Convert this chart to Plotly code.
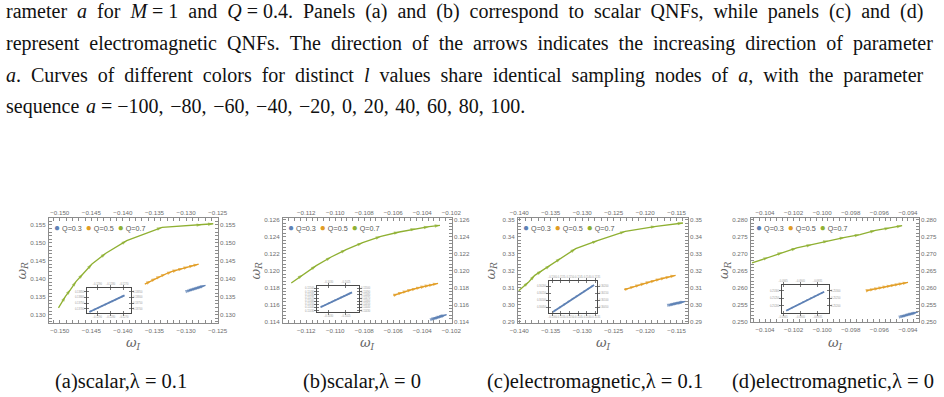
import plotly.graph_objects as go

# ---------------- data ----------------
a_values = [-100, -80, -60, -40, -20, 0, 20, 40, 60, 80, 100]
series_names = ["Q=0.3", "Q=0.5", "Q=0.7"]
series_colors = ["#5E81B5", "#E19C24", "#8FB032"]

# panel (a) scalar, lambda = 0.1
a_wI_q03 = [-0.12960, -0.12930, -0.12901, -0.12873, -0.12846, -0.12819, -0.12793, -0.12767, -0.12742, -0.12717, -0.12693]
a_wR_q03 = [0.13670, 0.13687, 0.13703, 0.13718, 0.13733, 0.13748, 0.13763, 0.13777, 0.13791, 0.13805, 0.13819]
a_wI_q05 = [-0.13654, -0.13550, -0.13471, -0.13393, -0.13314, -0.13220, -0.13131, -0.13042, -0.12958, -0.12869, -0.12801]
a_wR_q05 = [0.13852, 0.13944, 0.14019, 0.14083, 0.14139, 0.14204, 0.14250, 0.14296, 0.14333, 0.14380, 0.14407]
a_wI_q07 = [-0.1502, -0.1491, -0.1483, -0.1474, -0.1463, -0.1449, -0.1427, -0.1394, -0.1338, -0.1275, -0.1257]
a_wR_q07 = [0.1319, 0.1351, 0.1370, 0.1393, 0.1414, 0.1441, 0.1471, 0.1506, 0.1543, 0.1550, 0.1553]

# panel (b) scalar, lambda = 0
b_wI_q03 = [-0.10323, -0.10312, -0.10302, -0.10292, -0.10283, -0.10274, -0.10265, -0.10257, -0.10248, -0.10240, -0.10232]
b_wR_q03 = [0.11441, 0.11447, 0.11452, 0.11457, 0.11462, 0.11467, 0.11471, 0.11476, 0.11480, 0.11484, 0.11488]
b_wI_q05 = [-0.10598, -0.10564, -0.10531, -0.10499, -0.10467, -0.10436, -0.10406, -0.10376, -0.10347, -0.10318, -0.10291]
b_wR_q05 = [0.11714, 0.11734, 0.11752, 0.11769, 0.11784, 0.11798, 0.11811, 0.11823, 0.11834, 0.11845, 0.11855]
b_wI_q07 = [-0.11303, -0.11223, -0.11131, -0.11028, -0.10925, -0.10811, -0.10685, -0.10559, -0.10445, -0.10353, -0.10278]
b_wR_q07 = [0.11859, 0.11956, 0.12062, 0.12163, 0.12249, 0.12331, 0.12405, 0.12456, 0.12495, 0.12518, 0.12534]

# panel (c) electromagnetic, lambda = 0.1
c_wI_q03 = [-0.11597, -0.11569, -0.11543, -0.11518, -0.11494, -0.11470, -0.11447, -0.11424, -0.11402, -0.11380, -0.11358]
c_wR_q03 = [0.30015, 0.30038, 0.30060, 0.30081, 0.30101, 0.30121, 0.30139, 0.30158, 0.30176, 0.30194, 0.30211]
c_wI_q05 = [-0.12332, -0.12244, -0.12158, -0.12074, -0.11991, -0.11909, -0.11828, -0.11748, -0.11669, -0.11592, -0.11517]
c_wR_q05 = [0.30895, 0.31000, 0.31100, 0.31195, 0.31285, 0.31370, 0.31452, 0.31531, 0.31605, 0.31673, 0.31736]
c_wI_q07 = [-0.14009, -0.13850, -0.13754, -0.13637, -0.13503, -0.13338, -0.13104, -0.12758, -0.12316, -0.11826, -0.11400]
c_wR_q07 = [0.30837, 0.31345, 0.31736, 0.32010, 0.32323, 0.32753, 0.33301, 0.33770, 0.34318, 0.34611, 0.34807]

# panel (d) electromagnetic, lambda = 0
d_wI_q03 = [-0.09441, -0.09429, -0.09417, -0.09406, -0.09395, -0.09384, -0.09373, -0.09362, -0.09351, -0.09341, -0.09330]
d_wR_q03 = [0.25166, 0.25180, 0.25194, 0.25207, 0.25220, 0.25233, 0.25245, 0.25257, 0.25269, 0.25281, 0.25293]
d_wI_q05 = [-0.09690, -0.09659, -0.09629, -0.09599, -0.09570, -0.09541, -0.09512, -0.09484, -0.09456, -0.09428, -0.09400]
d_wR_q05 = [0.25919, 0.25946, 0.25972, 0.25998, 0.26023, 0.26047, 0.26071, 0.26094, 0.26117, 0.26140, 0.26163]
d_wI_q07 = [-0.10491, -0.10375, -0.10277, -0.10178, -0.10073, -0.09957, -0.09841, -0.09736, -0.09627, -0.09527, -0.09441]
d_wR_q07 = [0.26730, 0.26896, 0.27043, 0.27170, 0.27268, 0.27385, 0.27483, 0.27561, 0.27688, 0.27757, 0.27825]

# tick values
a_xticks = [-0.150, -0.145, -0.140, -0.135, -0.130, -0.125]
a_yticks = [0.130, 0.135, 0.140, 0.145, 0.150, 0.155]
b_xticks = [-0.112, -0.110, -0.108, -0.106, -0.104, -0.102]
b_yticks = [0.114, 0.116, 0.118, 0.120, 0.122, 0.124, 0.126]
c_xticks = [-0.140, -0.135, -0.130, -0.125, -0.120, -0.115]
c_yticks = [0.29, 0.30, 0.31, 0.32, 0.33, 0.34, 0.35]
d_xticks = [-0.104, -0.102, -0.100, -0.098, -0.096, -0.094]
d_yticks = [0.250, 0.255, 0.260, 0.265, 0.270, 0.275, 0.280]

captions = ["(a)scalar,λ = 0.1", "(b)scalar,λ = 0", "(c)electromagnetic,λ = 0.1", "(d)electromagnetic,λ = 0"]

text_lines = [
    "rameter <i>a</i> for <i>M</i> = 1 and <i>Q</i> = 0.4. Panels (a) and (b) correspond to scalar QNFs, while panels (c) and (d)",
    "represent electromagnetic QNFs. The direction of the arrows indicates the increasing direction of parameter",
    "<i>a</i>. Curves of different colors for distinct <i>l</i> values share identical sampling nodes of <i>a</i>, with the parameter",
    "sequence <i>a</i> = −100, −80, −60, −40, −20, 0, 20, 40, 60, 80, 100.",
]
# extra inter-word stretch (justification) per line
line_stretch = ["\u00a0", "\u00a0", "\u00a0", "\u200a"]

# ---------------- layout geometry (pixels) ----------------
W, H = 944, 397
def px(x):
    return x / W
def py(y):
    return 1 - y / H

panels = [
    dict(series=[(a_wI_q03, a_wR_q03), (a_wI_q05, a_wR_q05), (a_wI_q07, a_wR_q07)],
         box=(49, 218, 218, 323), inset=(87, 288, 131, 313),
         xr=[-0.1517, -0.12495], yr=[0.1277, 0.1569], xt=a_xticks, yt=a_yticks, xf=".3f", yf=".3f",
         ixr=[-0.12977, -0.12644], iyr=[0.13661, 0.13885], cap_x=121),
    dict(series=[(b_wI_q03, b_wR_q03), (b_wI_q05, b_wR_q05), (b_wI_q07, b_wR_q07)],
         box=(283, 218, 452, 323), inset=(317, 286, 359, 312),
         xr=[-0.1136, -0.10195], yr=[0.1139, 0.1262], xt=b_xticks, yt=b_yticks, xf=".3f", yf=".3f",
         ixr=[-0.10333, -0.10212], iyr=[0.11426, 0.11508], cap_x=362),
    dict(series=[(c_wI_q03, c_wR_q03), (c_wI_q05, c_wR_q05), (c_wI_q07, c_wR_q07)],
         box=(518, 218, 688, 323), inset=(549, 281, 597, 313),
         xr=[-0.1402, -0.1132], yr=[0.2894, 0.3510], xt=c_xticks, yt=c_yticks, xf=".3f", yf=".2f",
         ixr=[-0.11619, -0.11341], iyr=[0.30008, 0.30239], cap_x=595),
    dict(series=[(d_wI_q03, d_wR_q03), (d_wI_q05, d_wR_q05), (d_wI_q07, d_wR_q07)],
         box=(751, 218, 919, 322), inset=(782, 285, 829, 313),
         xr=[-0.10498, -0.09323], yr=[0.24998, 0.2805], xt=d_xticks, yt=d_yticks, xf=".3f", yf=".3f",
         ixr=[-0.09453, -0.09316], iyr=[0.25151, 0.25338], cap_x=833),
]

FRAME = "#8c8c8c"
TICKC = "#6e6e6e"
SANS = "Liberation Sans, Arial, sans-serif"
SERIF = "Liberation Serif, Times New Roman, serif"

fig = go.Figure()
layout = {}
annotations = []

def ax_name(i, letter):
    return letter if i == 1 else f"{letter}{i}"

def lkey(i, letter):
    return f"{letter}axis" if i == 1 else f"{letter}axis{i}"

def arrow_sizes(n, s):
    return [0] + [s] * (n - 1)

for p, P in enumerate(panels):
    m, t, ins, it = 4 * p + 1, 4 * p + 2, 4 * p + 3, 4 * p + 4
    l, tp, r, b = P["box"]
    il, itp, ir, ib = P["inset"]
    xdom = [px(l), px(r)]
    ydom = [py(b), py(tp)]
    ixdom = [px(il), px(ir)]
    iydom = [py(ib), py(itp)]
    dx = P["xt"][1] - P["xt"][0]
    dy = P["yt"][1] - P["yt"][0]
    tf = dict(size=6.2, color=TICKC, family=SANS)

    common = dict(showline=True, linecolor=FRAME, linewidth=1.3, mirror="allticks", ticks="inside",
                  ticklen=3, tickwidth=0.8, tickcolor=FRAME, showgrid=False, zeroline=False, tickfont=tf,
                  ticklabelstandoff=1, automargin=False, tickangle=0)
    layout[lkey(m, "x")] = dict(common, domain=xdom, range=P["xr"], anchor=ax_name(m, "y"), side="bottom",
                                tickmode="array", tickvals=P["xt"], tickformat=P["xf"],
                                minor=dict(ticks="inside", ticklen=1.6, tickwidth=0.6, tickcolor=FRAME,
                                           tickmode="linear", tick0=P["xt"][0], dtick=dx / 5))
    layout[lkey(m, "y")] = dict(common, domain=ydom, range=P["yr"], anchor=ax_name(m, "x"), side="left",
                                tickmode="array", tickvals=P["yt"], tickformat=P["yf"],
                                minor=dict(ticks="inside", ticklen=1.6, tickwidth=0.6, tickcolor=FRAME,
                                           tickmode="linear", tick0=P["yt"][0], dtick=dy / 5))
    ov = dict(showline=False, ticks="", showgrid=False, zeroline=False, tickfont=tf, ticklabelstandoff=1,
              automargin=False, tickangle=0)
    layout[lkey(t, "x")] = dict(ov, overlaying=ax_name(m, "x"), anchor=ax_name(m, "y"), side="top",
                                range=P["xr"], tickmode="array", tickvals=P["xt"], tickformat=P["xf"])
    layout[lkey(t, "y")] = dict(ov, overlaying=ax_name(m, "y"), anchor=ax_name(m, "x"), side="right",
                                range=P["yr"], tickmode="array", tickvals=P["yt"], tickformat=P["yf"])

    # inset axes
    itf = dict(size=2.6, color="#9a9a9a", family=SANS)
    icommon = dict(showline=True, linecolor="#4a4a4a", linewidth=1.4, mirror="allticks", ticks="inside",
                   ticklen=1.5, tickwidth=0.5, tickcolor="#777", showgrid=False, zeroline=False, tickfont=itf,
                   ticklabelstandoff=1, automargin=False, tickangle=0)
    layout[lkey(ins, "x")] = dict(icommon, domain=ixdom, range=P["ixr"], anchor=ax_name(ins, "y"),
                                  side="bottom", tickformat=".4f", nticks=6)
    layout[lkey(ins, "y")] = dict(icommon, domain=iydom, range=P["iyr"], anchor=ax_name(ins, "x"),
                                  side="left", tickformat=".5f", nticks=9)
    iov = dict(showline=False, ticks="", showgrid=False, zeroline=False, tickfont=itf, ticklabelstandoff=1,
               automargin=False, tickangle=0)
    layout[lkey(it, "x")] = dict(iov, overlaying=ax_name(ins, "x"), anchor=ax_name(ins, "y"), side="top",
                                 range=P["ixr"], tickformat=".4f", nticks=6)
    layout[lkey(it, "y")] = dict(iov, overlaying=ax_name(ins, "y"), anchor=ax_name(ins, "x"), side="right",
                                 range=P["iyr"], tickformat=".5f", nticks=9)

    # curves: solid line + arrowheads at the sampling nodes of a
    for (xs, ys), name, col in zip(P["series"], series_names, series_colors):
        fig.add_trace(go.Scatter(
            x=xs, y=ys, mode="lines", name=name, showlegend=False,
            line=dict(color=col, width=1.3),
            xaxis=ax_name(m, "x"), yaxis=ax_name(m, "y")))
        fig.add_trace(go.Scatter(
            x=xs, y=ys, mode="markers", name=name, showlegend=False,
            marker=dict(symbol="arrow", angleref="previous", size=arrow_sizes(len(xs), 5.5), color=col,
                        line=dict(width=0)),
            xaxis=ax_name(m, "x"), yaxis=ax_name(m, "y")))
    # empty traces to register overlay axes
    fig.add_trace(go.Scatter(x=[], y=[], xaxis=ax_name(t, "x"), yaxis=ax_name(m, "y"), showlegend=False))
    fig.add_trace(go.Scatter(x=[], y=[], xaxis=ax_name(m, "x"), yaxis=ax_name(t, "y"), showlegend=False))
    # inset: Q=0.3 branch magnified
    xs, ys = P["series"][0]
    fig.add_trace(go.Scatter(
        x=xs, y=ys, mode="lines", showlegend=False,
        line=dict(color=series_colors[0], width=1.8),
        xaxis=ax_name(ins, "x"), yaxis=ax_name(ins, "y")))
    fig.add_trace(go.Scatter(
        x=xs, y=ys, mode="markers", showlegend=False,
        marker=dict(symbol="arrow", angleref="previous", size=arrow_sizes(len(xs), 3.5),
                    color=series_colors[0], line=dict(width=0)),
        xaxis=ax_name(ins, "x"), yaxis=ax_name(ins, "y")))
    fig.add_trace(go.Scatter(x=[], y=[], xaxis=ax_name(it, "x"), yaxis=ax_name(ins, "y"), showlegend=False))
    fig.add_trace(go.Scatter(x=[], y=[], xaxis=ax_name(ins, "x"), yaxis=ax_name(it, "y"), showlegend=False))

    # legend (inside the frame, top-left)
    leg = "  ".join(f'<span style="color:{c};font-size:10px">●</span> {n}'
                    for n, c in zip(series_names, series_colors))
    annotations.append(dict(text=leg, x=px(l + 3), y=py(tp + 9), xref="paper", yref="paper",
                            xanchor="left", yanchor="middle", showarrow=False,
                            font=dict(size=7.2, color="#555", family=SANS)))
    # axis titles
    annotations.append(dict(text="<i>ω</i><sub><i>R</i></sub>", x=px(l - 27), y=py((tp + b) / 2),
                            xref="paper", yref="paper", xanchor="center", yanchor="middle",
                            textangle=-90, showarrow=False,
                            font=dict(size=13, color="#666", family="DejaVu Serif, serif")))
    annotations.append(dict(text="<i>ω</i><sub><i>I</i></sub>", x=px((l + r) / 2), y=py(343),
                            xref="paper", yref="paper", xanchor="center", yanchor="middle",
                            showarrow=False,
                            font=dict(size=13, color="#666", family="DejaVu Serif, serif")))
    # sub-caption
    annotations.append(dict(text=captions[p], x=px(P["cap_x"]), y=py(381), xref="paper", yref="paper",
                            xanchor="center", yanchor="middle",
                            showarrow=False, font=dict(size=20.5, color="#111", family=SERIF)))

# body text above the panels
for k, line in enumerate(text_lines):
    words = line.split(" ")
    sep = " " + line_stretch[k]
    # keep "=" tight (math spacing is not stretched)
    out = words[0]
    for w_prev, w in zip(words[:-1], words[1:]):
        if w == "=" or w_prev == "=":
            out += " " + w
        else:
            out += sep + w
    annotations.append(dict(text=out, x=px(4), y=py(12 + 31.5 * k), xref="paper", yref="paper",
                            xanchor="left", yanchor="middle", showarrow=False,
                            font=dict(size=20, color="#111", family=SERIF)))

fig.update_layout(
    width=W, height=H, margin=dict(l=0, r=0, t=0, b=0),
    paper_bgcolor="white", plot_bgcolor="white", showlegend=False,
    annotations=annotations, **layout)

fig.write_html("out.html")
